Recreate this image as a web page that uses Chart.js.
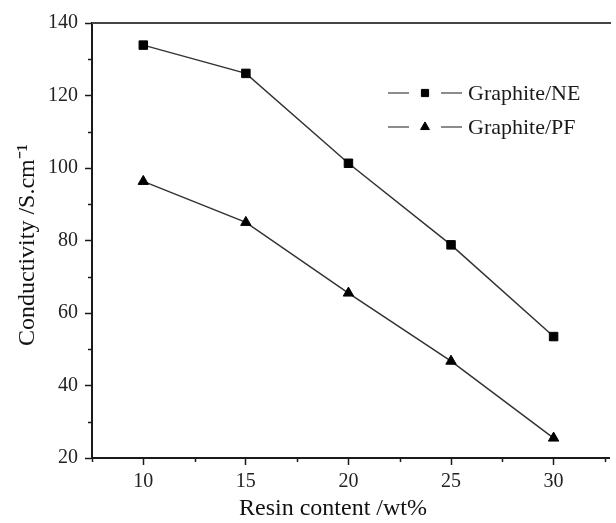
<!DOCTYPE html>
<html>
<head>
<meta charset="utf-8">
<title>Conductivity vs resin content</title>
<script src="https://cdn.jsdelivr.net/npm/chart.js@4.4.1/dist/chart.umd.min.js"></script>
<style>
    html, body { margin: 0; padding: 0; background: #fff; }
    #wrap { width: 616px; height: 523px; }
</style>
</head>
<body>
<div id="wrap"><canvas id="conductivityChart"></canvas></div>
<script>
// Resin content, wt%
const resinContent = [10, 15, 20, 25, 30];
// Conductivity, S/cm
const graphiteNE = [133.9, 126.1, 101.3, 78.8, 53.5];
const graphitePF = [96.3, 85.0, 65.5, 46.7, 25.5];

// Axis ticks (major carry labels, minor are bare marks)
const xTicks = [10, 15, 20, 25, 30];
const yTicks = [20, 40, 60, 80, 100, 120, 140];
const xMinorTicks = [7.5, 12.5, 17.5, 22.5, 27.5, 32.5];
const yMinorTicks = [30, 50, 70, 90, 110, 130];

const xTitle = 'Resin content /wt%';
const yTitle = 'Conductivity /S.cm\u207B\u00B9';

const SERIF = "'Liberation Serif', 'Times New Roman', serif";
const INK = '#1a1a1a';

function toPoints(ys) {
    return resinContent.map((x, i) => ({ x: x, y: ys[i] }));
}

/**
 * Top frame line and short minor ticks on both axes
 */
const frameAndMinorTicks = {
    id: 'frameAndMinorTicks',
    afterDraw(chart) {
        const { ctx, chartArea, scales } = chart;
        ctx.save();
        ctx.strokeStyle = '#444';
        ctx.lineWidth = 2;
        ctx.beginPath();
        ctx.moveTo(chartArea.left, chartArea.top);
        ctx.lineTo(chartArea.right + 2, chartArea.top);
        ctx.stroke();

        ctx.strokeStyle = INK;
        ctx.lineWidth = 1.5;
        ctx.beginPath();
        xMinorTicks.forEach(v => {
            const px = Math.round(scales.x.getPixelForValue(v)) + 0.5;
            if (px < chartArea.left || px > chartArea.right) return;
            ctx.moveTo(px, chartArea.bottom);
            ctx.lineTo(px, chartArea.bottom + 4);
        });
        yMinorTicks.forEach(v => {
            const py = Math.round(scales.y.getPixelForValue(v)) + 0.5;
            ctx.moveTo(chartArea.left, py);
            ctx.lineTo(chartArea.left - 4, py);
        });
        ctx.stroke();
        ctx.restore();
    }
};

/**
 * Axis titles, placed by hand so they sit where the plot wants them
 */
const axisTitles = {
    id: 'axisTitles',
    afterDraw(chart) {
        const { ctx, chartArea } = chart;
        ctx.save();
        ctx.fillStyle = '#111';
        ctx.font = '24px ' + SERIF;
        ctx.textAlign = 'center';
        ctx.textBaseline = 'middle';
        ctx.fillText(xTitle, chartArea.left + 241, 509);

        ctx.translate(28, chartArea.top + 222);
        ctx.rotate(-Math.PI / 2);
        ctx.fillText(yTitle, 0, 0);
        ctx.restore();
    }
};

/**
 * Legend in the upper right: line - marker - line, then the label
 */
const lineMarkerLegend = {
    id: 'lineMarkerLegend',
    afterDraw(chart) {
        const { ctx, chartArea } = chart;
        const x0 = chartArea.left + 296;
        const y0 = chartArea.top + 70;
        const rowGap = 34;
        ctx.save();
        chart.data.datasets.forEach((ds, i) => {
            const y = y0 + i * rowGap;
            ctx.strokeStyle = INK;
            ctx.lineWidth = 1.2;
            ctx.beginPath();
            ctx.moveTo(x0, y);
            ctx.lineTo(x0 + 21, y);
            ctx.moveTo(x0 + 53, y);
            ctx.lineTo(x0 + 74, y);
            ctx.stroke();

            ctx.fillStyle = ds.pointBackgroundColor;
            ctx.strokeStyle = ds.pointBorderColor;
            ctx.lineWidth = 1;
            Chart.helpers.drawPoint(ctx, {
                pointStyle: ds.pointStyle,
                radius: ds.pointRadius * 0.85,
                rotation: 0,
                borderWidth: 1
            }, x0 + 37, y);

            ctx.fillStyle = INK;
            ctx.font = '22px ' + SERIF;
            ctx.textAlign = 'left';
            ctx.textBaseline = 'middle';
            ctx.fillText(ds.label, x0 + 80, y + 1);
        });
        ctx.restore();
    }
};

const ctx = document.getElementById('conductivityChart');

new Chart(ctx, {
    type: 'line',
    data: {
        datasets: [
            {
                label: 'Graphite/NE',
                data: toPoints(graphiteNE),
                borderColor: '#333',
                borderWidth: 1.5,
                pointStyle: 'rect',
                pointRadius: 6,
                pointBackgroundColor: '#000',
                pointBorderColor: '#000',
                pointBorderWidth: 1,
                tension: 0
            },
            {
                label: 'Graphite/PF',
                data: toPoints(graphitePF),
                borderColor: '#333',
                borderWidth: 1.5,
                pointStyle: 'triangle',
                pointRadius: 6,
                pointBackgroundColor: '#000',
                pointBorderColor: '#000',
                pointBorderWidth: 1,
                tension: 0
            }
        ]
    },
    options: {
        responsive: true,
        maintainAspectRatio: false,
        animation: false,
        layout: {
            padding: { top: 23, right: 0, left: 0, bottom: 0 }
        },
        plugins: {
            legend: { display: false },
            tooltip: { enabled: false }
        },
        scales: {
            x: {
                type: 'linear',
                min: 7.5,
                max: 32.7,
                afterBuildTicks: scale => {
                    scale.ticks = xTicks.map(v => ({ value: v }));
                },
                afterFit: scale => { scale.height = 65; },
                grid: {
                    drawOnChartArea: false,
                    tickLength: 7,
                    tickWidth: 1.5,
                    tickColor: INK
                },
                border: { display: true, color: INK, width: 2 },
                ticks: {
                    color: '#222',
                    padding: 5,
                    font: { family: SERIF, size: 20 },
                    maxRotation: 0
                },
                title: { display: false }
            },
            y: {
                type: 'linear',
                min: 20,
                max: 140,
                afterBuildTicks: scale => {
                    scale.ticks = yTicks.map(v => ({ value: v }));
                },
                afterFit: scale => { scale.width = 92; },
                grid: {
                    drawOnChartArea: false,
                    tickLength: 7,
                    tickWidth: 1.5,
                    tickColor: INK
                },
                border: { display: true, color: INK, width: 2 },
                ticks: {
                    color: '#222',
                    padding: 7,
                    font: { family: SERIF, size: 20 }
                },
                title: { display: false }
            }
        }
    },
    plugins: [frameAndMinorTicks, axisTitles, lineMarkerLegend]
});
</script>
</body>
</html>
